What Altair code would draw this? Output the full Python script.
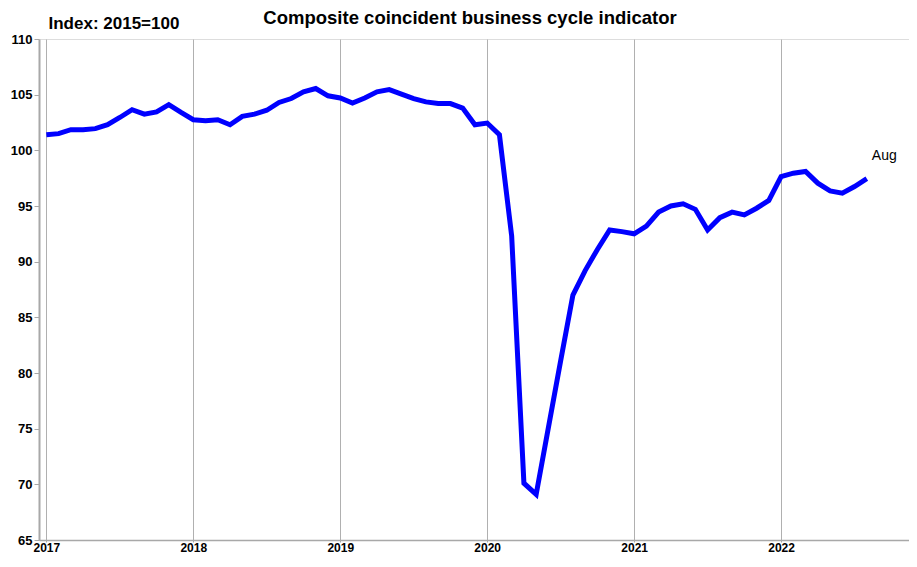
import altair as alt
import pandas as pd

# Monthly index, Jan 2017 - Aug 2022 (Index: 2015=100)
months = [f"{y}-{m:02d}" for y in range(2017, 2023) for m in range(1, 13)][:68]
values = [
    101.4, 101.5, 101.85, 101.85, 101.95, 102.3, 102.95, 103.65, 103.25, 103.45, 104.1, 103.4,
    102.75, 102.65, 102.75, 102.3, 103.05, 103.25, 103.6, 104.3, 104.65, 105.25, 105.55, 104.9,
    104.7, 104.25, 104.7, 105.25, 105.45, 105.05, 104.65, 104.35, 104.2, 104.2, 103.8, 102.3,
    102.45, 101.4, 92.3, 70.1, 69.1, 75.1, 81.1, 87.0, 89.2, 91.1, 92.85, 92.7,
    92.5, 93.2, 94.45, 95.0, 95.2, 94.7, 92.85, 93.95, 94.45, 94.2, 94.8, 95.5,
    97.65, 97.95, 98.1, 97.05, 96.35, 96.15, 96.75, 97.45,
]
year_ticks = [0, 12, 24, 36, 48, 60]
y_ticks = [65, 70, 75, 80, 85, 90, 95, 100, 105, 110]
last_label = "Aug"

df = pd.DataFrame({"month": months, "value": values, "t": list(range(len(values)))})
lab = df.tail(1).assign(label=last_label)

FONT = "Liberation Sans"
GRID = "#b0b0b0"

x_enc = alt.X(
    "t:Q",
    scale=alt.Scale(domain=[-0.6, 71.1], nice=False, zero=False),
    axis=alt.Axis(
        values=year_ticks,
        labelExpr="'' + (2017 + datum.value / 12)",
        title=None,
        grid=True,
        gridColor=GRID,
        gridWidth=1,
        domainColor="#a8a8a8",
        domainWidth=1.5,
        tickColor="#a8a8a8",
        tickSize=2,
        labelPadding=0,
        labelFont=FONT,
        labelFontSize=12,
        labelFontWeight="bold",
        labelColor="#000000",
    ),
)
y_enc = alt.Y(
    "value:Q",
    scale=alt.Scale(domain=[65, 110], nice=False, zero=False),
    axis=alt.Axis(
        values=y_ticks,
        grid=False,
        title="Index: 2015=100",
        titleAngle=0,
        titleX=9,
        titleY=-11,
        titleAlign="left",
        titleBaseline="alphabetic",
        titleFont=FONT,
        titleFontSize=17,
        titleFontWeight="bold",
        titleColor="#000000",
        domainColor="#a8a8a8",
        domainWidth=2,
        tickColor="#a8a8a8",
        tickSize=5,
        labelPadding=2,
        labelFont=FONT,
        labelFontSize=13,
        labelFontWeight="bold",
        labelColor="#000000",
    ),
)

line = alt.Chart(df).mark_line(
    color="#0000ff", strokeWidth=5, strokeJoin="miter"
).encode(x=x_enc, y=y_enc)

text = alt.Chart(lab).mark_text(
    align="left", baseline="alphabetic", dx=5, dy=-19,
    font=FONT, fontSize=14, color="#000000"
).encode(x="t:Q", y="value:Q", text="label:N")

chart = alt.layer(line, text).properties(
    width=878,
    height=501,
    title=alt.TitleParams(
        "Composite coincident business cycle indicator",
        anchor="middle",
        frame="group",
        dx=-8,
        offset=-28,
        baseline="alphabetic",
        font=FONT,
        fontSize=18.5,
        fontWeight="bold",
        color="#000000",
    ),
    autosize=alt.AutoSizeParams(type="none"),
    padding={"left": 31, "top": 31, "right": -8, "bottom": 15},
).configure_view(stroke="#a8a8a8", strokeWidth=1.5).configure(background="white")

chart.save("out.html", embed_options={"renderer": "svg", "actions": False})
